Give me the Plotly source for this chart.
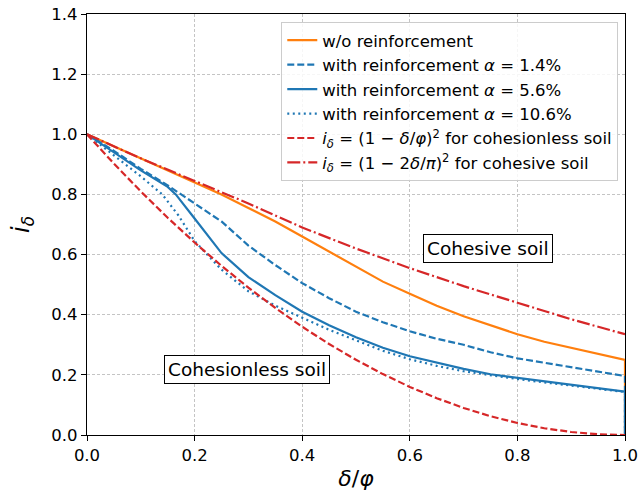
import plotly.graph_objects as go

# values
x_orange = [0, 0.05, 0.1, 0.15, 0.2, 0.25, 0.3, 0.35, 0.4, 0.45, 0.5, 0.55, 0.6, 0.65, 0.7, 0.75, 0.8, 0.85, 0.9, 0.95, 1.0, 1.0]
y_orange = [1.0, 0.96, 0.92, 0.88, 0.84, 0.80, 0.755, 0.71, 0.66, 0.61, 0.56, 0.51, 0.47, 0.43, 0.395, 0.365, 0.335, 0.31, 0.29, 0.27, 0.25, 0.0]

x_a14 = [0, 0.05, 0.1, 0.15, 0.2, 0.25, 0.3, 0.35, 0.4, 0.45, 0.5, 0.55, 0.6, 0.65, 0.7, 0.75, 0.8, 0.85, 0.9, 0.95, 1.0, 1.0]
y_a14 = [1.0, 0.945, 0.885, 0.83, 0.77, 0.71, 0.63, 0.565, 0.505, 0.455, 0.41, 0.375, 0.345, 0.32, 0.30, 0.275, 0.255, 0.24, 0.225, 0.21, 0.196, 0.0]

x_a56 = [0, 0.05, 0.1, 0.15, 0.165, 0.2, 0.25, 0.3, 0.35, 0.4, 0.45, 0.5, 0.55, 0.6, 0.65, 0.7, 0.75, 0.8, 0.85, 0.9, 0.95, 1.0, 1.0]
y_a56 = [1.0, 0.94, 0.88, 0.825, 0.80, 0.72, 0.605, 0.525, 0.465, 0.41, 0.365, 0.325, 0.29, 0.262, 0.24, 0.22, 0.202, 0.19, 0.178, 0.166, 0.155, 0.144, 0.0]

x_a106 = [0, 0.05, 0.1, 0.14, 0.17, 0.2, 0.25, 0.3, 0.35, 0.4, 0.45, 0.5, 0.55, 0.6, 0.65, 0.7, 0.75, 0.8, 0.85, 0.9, 0.95, 1.0, 1.0]
y_a106 = [1.0, 0.93, 0.86, 0.80, 0.73, 0.645, 0.55, 0.478, 0.43, 0.39, 0.35, 0.315, 0.28, 0.252, 0.23, 0.212, 0.198, 0.186, 0.175, 0.164, 0.154, 0.143, 0.0]

x_cl = [0, 0.05, 0.1, 0.15, 0.2, 0.25, 0.3, 0.35, 0.4, 0.45, 0.5, 0.55, 0.6, 0.65, 0.7, 0.75, 0.8, 0.85, 0.9, 0.95, 1.0]
y_cl = [1.0, 0.9025, 0.81, 0.7225, 0.64, 0.5625, 0.49, 0.4225, 0.36, 0.3025, 0.25, 0.2025, 0.16, 0.1225, 0.09, 0.0625, 0.04, 0.0225, 0.01, 0.0025, 0.0]

x_co = [0, 0.1, 0.2, 0.3, 0.4, 0.5, 0.6, 0.7, 0.8, 0.9, 1.0]
y_co = [1.0, 0.92, 0.845, 0.77, 0.69, 0.62, 0.555, 0.495, 0.44, 0.385, 0.335]

orange = "#ff7f0e"
blue = "#1f77b4"
red = "#d62728"
lw = 2.2

fig = go.Figure()
series = [
    (x_orange, y_orange, orange, "solid", "w/o reinforcement"),
    (x_a14, y_a14, blue, "7px,3px", "with reinforcement <i>α</i> = 1.4%"),
    (x_a56, y_a56, blue, "solid", "with reinforcement <i>α</i> = 5.6%"),
    (x_a106, y_a106, blue, "2px,3.5px", "with reinforcement <i>α</i> = 10.6%"),
    (x_cl, y_cl, red, "7px,3px", "<i>i</i><sub><i>δ</i></sub> = (1 − <i>δ</i>/<i>φ</i>)<sup>2</sup> for cohesionless soil"),
    (x_co, y_co, red, "13px,3px,2px,3px", "<i>i</i><sub><i>δ</i></sub> = (1 − 2<i>δ</i>/<i>π</i>)<sup>2</sup> for cohesive soil"),
]
for i, (xs, ys, col, dash, name) in enumerate(series):
    fig.add_trace(go.Scatter(x=xs, y=ys, mode="lines", name=name, legendgroup=str(i),
                             line=dict(color=col, width=lw, dash=dash)))

fig.add_annotation(x=0.745, y=0.619, text="Cohesive soil", showarrow=False,
                   font=dict(size=18.5, color="black"), bgcolor="white",
                   bordercolor="black", borderwidth=1, borderpad=3)
fig.add_annotation(x=0.297, y=0.218, text="Cohesionless soil", showarrow=False,
                   font=dict(size=18.5, color="black"), bgcolor="white",
                   bordercolor="black", borderwidth=1, borderpad=3)

axis_common = dict(showline=True, linecolor="black", linewidth=1.2, mirror=True,
                   ticks="outside", ticklen=5, tickcolor="black", automargin=False,
                   ticklabeloverflow="allow",
                   showgrid=True, gridcolor="#c4c4c4", gridwidth=0.8, griddash="3px,2px",
                   zeroline=False, tickfont=dict(size=16.5, color="black"))
fig.update_xaxes(range=[0, 1], tickvals=[0, 0.2, 0.4, 0.6, 0.8, 1.0], tickformat=".1f",
                 title=dict(text="<i>δ</i>/<i>φ</i>", font=dict(size=22, color="black"), standoff=6),
                 **axis_common)
fig.update_yaxes(range=[0, 1.4], tickvals=[0, 0.2, 0.4, 0.6, 0.8, 1.0, 1.2, 1.4], tickformat=".1f",
                 title=dict(text="<i>i</i><sub><i>δ</i></sub>", font=dict(size=24, color="black"), standoff=14),
                 **axis_common)

fig.update_layout(
    width=638, height=497,
    margin=dict(l=87, r=13, t=14, b=62),
    plot_bgcolor="white", paper_bgcolor="white",
    font=dict(family="DejaVu Sans", color="black"),
    legend=dict(x=0.9875, y=0.981, xanchor="right", yanchor="top",
                bgcolor="rgba(255,255,255,0.85)", bordercolor="#cccccc", borderwidth=1,
                font=dict(size=16.5, color="black"), tracegroupgap=0),
)
fig.write_html("out.html", config={"displayModeBar": False},
               post_script="document.body.style.margin='0px';")
